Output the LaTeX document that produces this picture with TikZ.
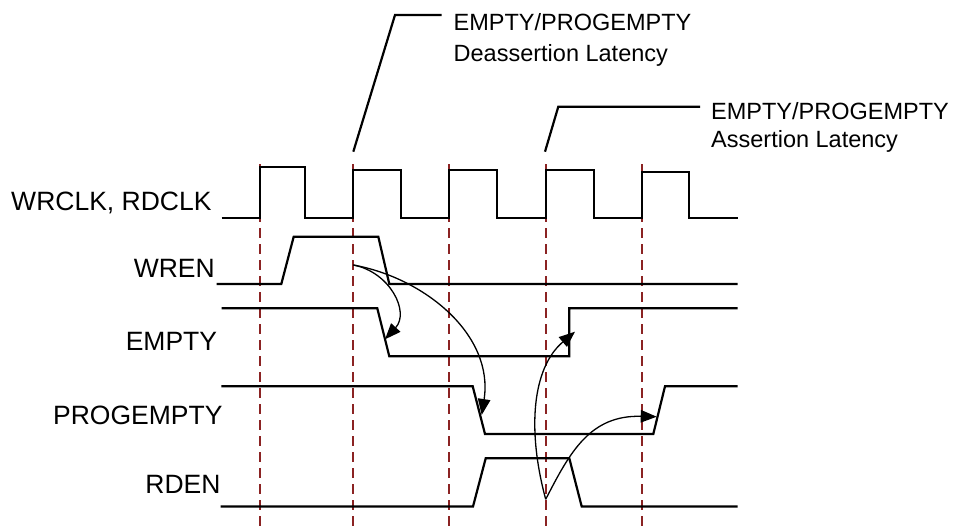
\documentclass[tikz,border=0pt]{standalone}
\usepackage{fontspec}
\setmainfont{Liberation Sans}
\usetikzlibrary{arrows.meta}
\definecolor{dashred}{RGB}{139,35,35}
\begin{document}
\begin{tikzpicture}[x=1pt,y=-1pt,
  signal/.style={line width=2.2pt,line join=miter},
  leader/.style={line width=2.2pt,line join=miter},
  grid/.style={line width=1.6pt,dashred,dash pattern=on 10pt off 6pt},
  causal/.style={line width=1.3pt,-{Triangle[length=16pt,width=12.5pt]}},
  siglabel/.style={inner sep=0pt,anchor=base east,font=\fontsize{26.5}{31}\selectfont},
  calllabel/.style={inner sep=0pt,anchor=base west,font=\fontsize{23.5}{28}\selectfont}]
\useasboundingbox (0,0) rectangle (958,527);
% edge guides
\foreach \x in {260,353,449,546,642}
  \draw[grid] (\x,164) -- (\x,527);
% labels
\node[siglabel] (lclk) at (211.7,210.7) {WRCLK, RDCLK};
\node[siglabel] (lwren) at (215,277.3) {WREN};
\node[siglabel] (lempty) at (217.3,350) {EMPTY};
\node[siglabel] (lprog) at (222.7,424) {PROGEMPTY};
\node[siglabel] (lrden) at (220.7,493.3) {RDEN};
% signals
\draw[signal] (221.7,218) -- (260,218) -- (260,167.3) -- (305.3,167.3) -- (305.3,218)
  -- (353,218) -- (353,170) -- (401.3,170) -- (401.3,218)
  -- (449,218) -- (449,170) -- (497,170) -- (497,218)
  -- (546,218) -- (546,170) -- (593.6,170) -- (593.6,218)
  -- (642,218) -- (642,172) -- (689.3,172) -- (689.3,218) -- (737.5,218);
\draw[signal] (216.7,284) -- (281.3,284) -- (293.7,236.7) -- (378.3,236.7) -- (389.3,284) -- (737.5,284);
\draw[signal] (221.7,308.3) -- (377.3,308.3) -- (389.3,356.3) -- (569.3,356.3) -- (569.3,308.3) -- (737.5,308.3);
\draw[signal] (221.4,386.3) -- (472.7,386.3) -- (485,434) -- (653.3,434) -- (665,386.3) -- (737.5,386.3);
\draw[signal] (220.7,506.5) -- (473,506.5) -- (485.7,458.3) -- (569.3,458.3) -- (581.7,506.5) -- (737.5,506.5);
% callouts
\node[calllabel] (d1) at (453.5,30.7) {EMPTY/PROGEMPTY};
\node[calllabel] (d2) at (453.5,62) {Deassertion Latency};
\node[calllabel] (a1) at (711,119.3) {EMPTY/PROGEMPTY};
\node[calllabel] (a2) at (711,147.3) {Assertion Latency};
\coordinate (dlow) at (353.3,151.7);
\coordinate (dknee) at (395,15);
\coordinate (dend) at (441.7,15);
\coordinate (alow) at (545,151.7);
\coordinate (aknee) at (558.3,106.7);
\coordinate (aend) at (700,106.7);
\draw[leader] (dlow) -- (dknee) -- (dend);
\draw[leader] (alow) -- (aknee) -- (aend);
% causality arrows
\coordinate (s1) at (353.3,265);
\coordinate (s2) at (545.7,499.3);
\coordinate (e1) at (385,339.3);
\coordinate (e2) at (481.7,415);
\coordinate (e3) at (575,331.7);
\coordinate (e4) at (656.7,416.7);
\draw[causal] (s1) .. controls (390,272) and (410,312) .. (e1);
\draw[causal] (s1) .. controls (425,278) and (494,335) .. (e2);
\draw[causal] (s2) .. controls (527,430) and (532,368) .. (e3);
\draw[causal] (s2) .. controls (570,452) and (590,415) .. (e4);
\end{tikzpicture}
\end{document}
